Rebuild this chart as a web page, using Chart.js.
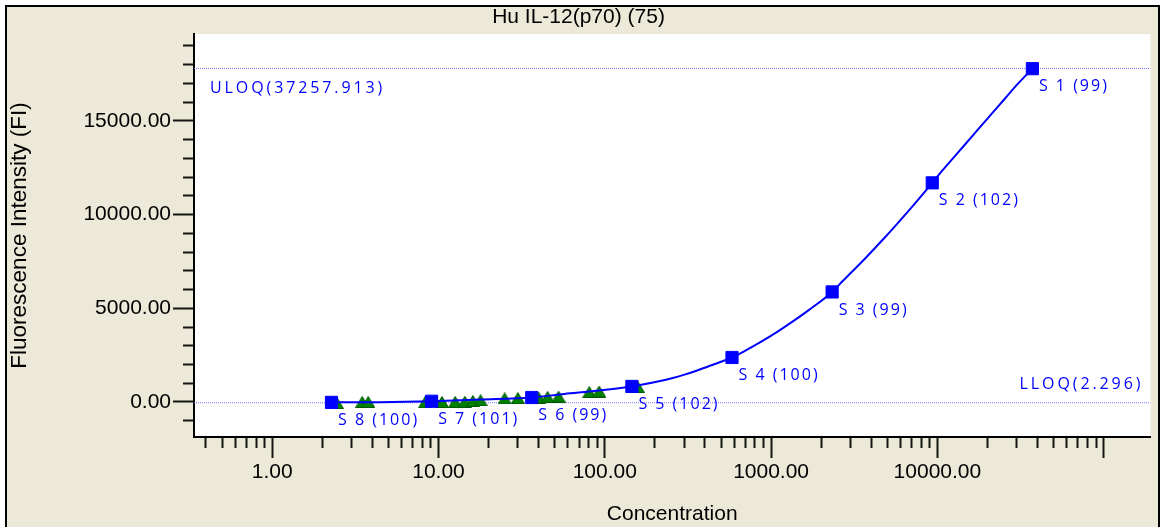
<!DOCTYPE html>
<html><head><meta charset="utf-8">
<script src="https://cdn.jsdelivr.net/npm/chart.js@4/dist/chart.umd.min.js"></script>
<style>
html,body{margin:0;padding:0;background:#fff;width:1160px;height:527px;overflow:hidden;}
#frame{position:absolute;left:5px;top:5px;width:1151px;height:540px;border:2px solid #000;background:#ECE9D8;}
#wrap{position:absolute;left:0;top:0;width:1160px;height:527px;}
</style></head><body>
<div id="frame"></div>
<div id="wrap"><canvas id="c" width="1160" height="527"></canvas></div>
<script>
// ---- data ----
const chartTitle = 'Hu IL-12(p70) (75)';
const xTitle = 'Concentration';
const yTitle = 'Fluorescence Intensity (FI)';

const standardLabels = ['S 1 (99)','S 2 (102)','S 3 (99)','S 4 (100)','S 5 (102)','S 6 (99)','S 7 (101)','S 8 (100)'];
const standardConc = [37257.913, 9314.478, 2328.620, 582.155, 145.539, 36.385, 9.096, 2.274];
const standardFI   = [17780, 11690, 5870, 2375, 830, 240, 40, -20];

const curveConc = [2.274, 4.37, 9.096, 18.0, 36.385, 57.2, 90.1, 145.539, 226, 298, 356, 450, 582.155, 709, 847, 1100, 1352, 1684, 2328.62, 2689, 3688, 4857, 5726, 7038, 9314.478, 10630, 13250, 16060, 20010, 25280, 30230, 37257.913];
const curveFI   = [-20, -10, 40, 130, 240, 430, 600, 830, 1155, 1445, 1670, 2000, 2375, 2765, 3150, 3770, 4300, 4900, 5870, 6440, 7670, 8800, 9505, 10410, 11690, 12310, 13290, 14140, 15120, 16150, 16940, 17780];

const sampleConc = [2.45, 3.48, 3.78, 8.3, 10.5, 12.6, 14.4, 16.1, 17.9, 25.0, 30.0, 40.0, 45.3, 52.7, 80.7, 92.5, 158];
const sampleFI   = [-60, 0, 0, -20, 0, 0, 10, 50, 90, 190, 210, 240, 270, 290, 530, 560, 800];

const uloqLabel = 'ULOQ(37257.913)';
const uloqFI = 17790;
const lloqLabel = 'LLOQ(2.296)';
const lloqFI = -40;

const xMin = 0.3388, xMax = 190900;
const yMin = -1867, yMax = 19630;
const xMajorTicks = [1, 10, 100, 1000, 10000, 100000];
const xLabeledTicks = [1, 10, 100, 1000, 10000];
const xTickLabels = ['1.00', '10.00', '100.00', '1000.00', '10000.00'];
const yMajorTicks = [0, 5000, 10000, 15000];
const yTickLabels = ['0.00', '5000.00', '10000.00', '15000.00'];
const yMinorStep = 1000;

// ---- tick lists ----
const xTickValues = [];
[0.1, 1, 10, 100, 1000, 10000].forEach(d => {
  for (let m = 1; m <= 9; m++) {
    const v = +(d * m).toPrecision(6);
    if (v >= 0.4 && v < 100000) xTickValues.push(v);
  }
});
xTickValues.push(100000);
const yTickValues = [];
for (let v = -1000; v <= 19000; v += yMinorStep) yTickValues.push(v);

// triangle marker image
function triImg() {
  const c = document.createElement('canvas');
  c.width = 14; c.height = 12;
  const g = c.getContext('2d');
  g.beginPath(); g.moveTo(0.5, 11.5); g.lineTo(7, 0.5); g.lineTo(13.5, 11.5); g.closePath();
  g.fillStyle = '#008000'; g.fill();
  g.strokeStyle = '#005a00'; g.lineWidth = 1; g.stroke();
  return c;
}
const tri = triImg();

const FONT = "'Liberation Sans', Arial, sans-serif";
const LFONT = "'Open Sans', 'DejaVu Sans', sans-serif";

function spacedText(ctx, text, x, y, spacing, align) {
  const chars = Array.from(text);
  const widths = chars.map(ch => ctx.measureText(ch).width);
  const total = widths.reduce((a, b) => a + b, 0) + spacing * (chars.length - 1);
  let cx = align === 'right' ? x - total : x;
  ctx.textAlign = 'left';
  chars.forEach((ch, i) => { ctx.fillText(ch, cx, y); cx += widths[i] + spacing; });
}

const bgPlugin = {
  id: 'bg',
  beforeDraw(chart) {
    const {ctx, chartArea: a} = chart;
    ctx.save(); ctx.fillStyle = '#fff';
    ctx.fillRect(a.left, a.top, a.right - a.left, a.bottom - a.top);
    ctx.restore();
  }
};
const labelPlugin = {
  id: 'labels',
  afterDatasetsDraw(chart) {
    const {ctx, chartArea: a} = chart;
    const ys = chart.scales.y;
    ctx.save();
    ctx.fillStyle = '#0000ff';
    ctx.textBaseline = 'middle';
    ctx.font = '16px ' + LFONT;
    const meta = chart.getDatasetMeta(0);
    meta.data.forEach((el, i) => spacedText(ctx, standardLabels[i], el.x + 6.5, el.y + 18, 2, 'left'));
    spacedText(ctx, uloqLabel, a.left + 16, ys.getPixelForValue(uloqFI) + 20, 2.9, 'left');
    spacedText(ctx, lloqLabel, a.right - 10, ys.getPixelForValue(lloqFI) - 18.5, 2.9, 'right');
    ctx.restore();
  }
};

const isMajorX = v => xMajorTicks.some(m => Math.abs(m - v) / m < 1e-6);
const isMajorY = v => yMajorTicks.includes(v);

new Chart(document.getElementById('c'), {
  data: {
    datasets: [
      { type: 'scatter', label: 'Standards', order: 0,
        data: standardConc.map((c, i) => ({x: c, y: standardFI[i]})),
        pointStyle: 'rect', pointRadius: 8.6, backgroundColor: '#0000ff', borderColor: '#0000ff', borderWidth: 1, showLine: false },
      { type: 'line', label: 'Curve', order: 1,
        data: curveConc.map((c, i) => ({x: c, y: curveFI[i]})),
        borderColor: '#0000ff', borderWidth: 2, pointRadius: 0, cubicInterpolationMode: 'monotone', fill: false },
      { type: 'scatter', label: 'Samples', order: 2,
        data: sampleConc.map((c, i) => ({x: c, y: sampleFI[i]})),
        pointStyle: tri, pointRadius: 6, showLine: false },
      { type: 'line', label: 'ULOQ', order: 3,
        data: [{x: xMin, y: uloqFI}, {x: xMax, y: uloqFI}],
        borderColor: 'rgba(90,90,255,0.85)', borderWidth: 1, borderDash: [1, 1], pointRadius: 0 },
      { type: 'line', label: 'LLOQ', order: 3,
        data: [{x: xMin, y: lloqFI}, {x: xMax, y: lloqFI}],
        borderColor: 'rgba(90,90,255,0.85)', borderWidth: 1, borderDash: [1, 1], pointRadius: 0 }
    ]
  },
  options: {
    responsive: false, animation: false, devicePixelRatio: 1,
    layout: { padding: { left: 0, right: 3, top: 0, bottom: 0 } },
    plugins: {
      legend: { display: false }, tooltip: { enabled: false },
      title: { display: true, text: chartTitle, color: '#000',
        font: { family: FONT, size: 21, weight: 'normal', lineHeight: 1.2 }, padding: { top: 5, bottom: 3.8 } }
    },
    scales: {
      x: {
        type: 'logarithmic', position: 'bottom', min: xMin, max: xMax, bounds: 'data',
        afterBuildTicks: s => { s.ticks = xTickValues.map(v => ({value: v, major: isMajorX(v)})); },
        afterFit: s => { s.height = 90; },
        border: { display: true, color: '#000', width: 2 },
        grid: { drawOnChartArea: false, drawTicks: true, tickLength: 21, tickColor: '#151515', tickWidth: 2,
          tickBorderDash: ctx => (ctx.tick && isMajorX(ctx.tick.value)) ? [] : [10, 60] },
        ticks: { autoSkip: false, maxRotation: 0, minRotation: 0, padding: 2, color: '#000',
          font: { family: FONT, size: 21, lineHeight: 1.2 },
          callback: v => { const i = xLabeledTicks.findIndex(m => Math.abs(m - v) / m < 1e-6); return i >= 0 ? xTickLabels[i] : ''; } },
        title: { display: true, text: xTitle, color: '#000', font: { family: FONT, size: 21, lineHeight: 1.2 }, padding: { top: 0, bottom: 0 } }
      },
      y: {
        type: 'linear', position: 'left', min: yMin, max: yMax, bounds: 'data',
        afterBuildTicks: s => { s.ticks = yTickValues.map(v => ({value: v})); },
        afterFit: s => { s.width = 194; },
        border: { display: true, color: '#000', width: 2 },
        grid: { drawOnChartArea: false, drawTicks: true, tickLength: 21, tickColor: '#151515', tickWidth: 2,
          tickBorderDash: ctx => (ctx.tick && isMajorY(ctx.tick.value)) ? [] : [0, 10, 12, 60] },
        ticks: { autoSkip: false, padding: 2, color: '#000', font: { family: FONT, size: 21, lineHeight: 1.2 },
          callback: v => { const i = yMajorTicks.indexOf(v); return i >= 0 ? yTickLabels[i] : ''; } },
        title: { display: true, text: yTitle, color: '#000', font: { family: FONT, size: 22.5, lineHeight: 1.2 }, padding: { top: 6.5, bottom: 0 } }
      }
    }
  },
  plugins: [bgPlugin, labelPlugin]
});
</script>
</body></html>
